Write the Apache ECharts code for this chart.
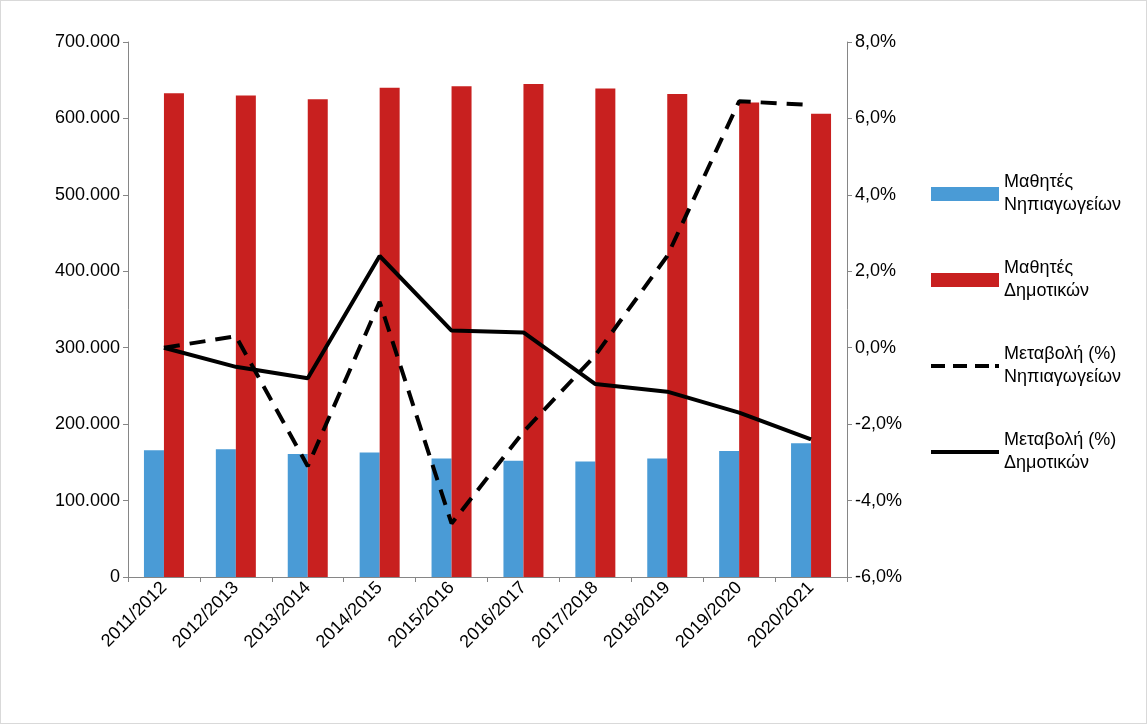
<!DOCTYPE html>
<html><head><meta charset="utf-8">
<script src="https://cdn.jsdelivr.net/npm/echarts@6/dist/echarts.min.js"></script>
<style>html,body{margin:0;padding:0;background:#fff}#c{width:1145px;height:722px;border:1px solid #d9d9d9}</style>
</head><body><div id="c"></div>
<script>
var years = ['2011/2012','2012/2013','2013/2014','2014/2015','2015/2016','2016/2017','2017/2018','2018/2019','2019/2020','2020/2021'];
var kinder = [166000,167000,161000,163000,155000,152000,151000,155000,165000,175000];
var primary = [633000,630000,625000,640000,642000,645000,639000,632000,621000,606000];
var kinderChange = [0,0.3,-3.1,1.2,-4.6,-2.2,-0.2,2.4,6.45,6.35];
var primaryChange = [0,-0.5,-0.8,2.4,0.45,0.4,-0.95,-1.15,-1.7,-2.4];

var chart = echarts.init(document.getElementById('c'));
var font = 'Liberation Sans';
chart.setOption({
  textStyle: {fontFamily: font},
  grid: {left: 127, right: 299, top: 41, bottom: 146},
  legend: {
    orient: 'vertical', left: 925, top: 165, itemGap: 40, itemWidth: 68, itemHeight: 14,
    textStyle: {fontSize: 18, color: '#000', fontFamily: font, lineHeight: 23},
    data: [
      {name: 'Μαθητές\nΝηπιαγωγείων', icon: 'rect'},
      {name: 'Μαθητές\nΔημοτικών', icon: 'rect'},
      {name: 'Μεταβολή (%)\nΝηπιαγωγείων', icon: 'path://M0,0h14v4h-14z M22,0h14v4h-14z M44,0h14v4h-14z M64,0h4v4h-4z', itemHeight: 4},
      {name: 'Μεταβολή (%)\nΔημοτικών', icon: 'path://M0,0h68v4h-68z', itemHeight: 4}
    ]
  },
  xAxis: {
    type: 'category', data: years,
    axisTick: {show: true, lineStyle: {color: '#868686'}},
    axisLine: {lineStyle: {color: '#868686'}},
    axisLabel: {rotate: 45, fontSize: 18, color: '#000', interval: 0}
  },
  yAxis: [{
    type: 'value', min: 0, max: 700000, interval: 100000,
    axisLine: {show: true, lineStyle: {color: '#868686'}},
    axisTick: {show: true},
    splitLine: {show: false},
    axisLabel: {fontSize: 18, color: '#000', formatter: function (v) { return v === 0 ? '0' : (v / 1000) + '.000'; }}
  }, {
    type: 'value', min: -6, max: 8, interval: 2,
    axisLine: {show: true, lineStyle: {color: '#868686'}},
    axisTick: {show: true},
    splitLine: {show: false},
    axisLabel: {fontSize: 18, color: '#000', formatter: function (v) { return v.toFixed(1).replace('.', ',') + '%'; }}
  }],
  series: [
    {name: 'Μαθητές\nΝηπιαγωγείων', type: 'bar', data: kinder, barWidth: 20, barGap: '0%', itemStyle: {color: '#4a9bd6'}},
    {name: 'Μαθητές\nΔημοτικών', type: 'bar', data: primary, barWidth: 20, itemStyle: {color: '#c8201f'}},
    {name: 'Μεταβολή (%)\nΝηπιαγωγείων', type: 'line', yAxisIndex: 1, data: kinderChange, symbol: 'none',
      lineStyle: {color: '#000', width: 4, type: [16, 10]}, itemStyle: {color: '#000'}},
    {name: 'Μεταβολή (%)\nΔημοτικών', type: 'line', yAxisIndex: 1, data: primaryChange, symbol: 'none',
      lineStyle: {color: '#000', width: 4}, itemStyle: {color: '#000'}}
  ]
});
</script></body></html>
